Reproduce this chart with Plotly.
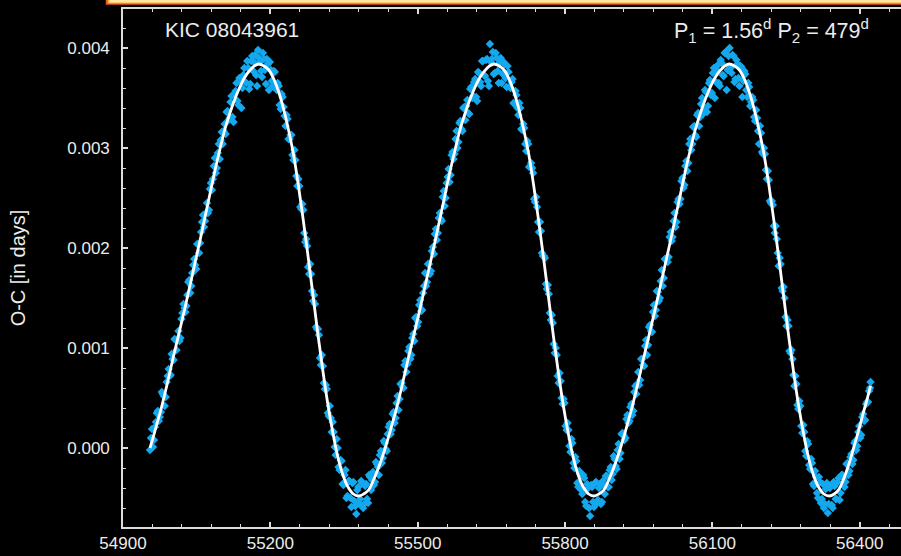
import plotly.graph_objects as go

# ---------------- data ----------------
# O-C of the primary minima: epochs (BJD - 2400000) and values (days)
prim_time = [
    54955, 54959, 54963, 54967, 54971, 54975, 54979, 54983, 54987, 54991,
    54995, 54999, 55003, 55007, 55011, 55015, 55019, 55023, 55027, 55031,
    55035, 55039, 55043, 55047, 55051, 55055, 55059, 55063, 55067, 55071,
    55075, 55079, 55083, 55087, 55091, 55095, 55099, 55103, 55107, 55111,
    55115, 55119, 55123, 55127, 55131, 55135, 55139, 55143, 55147, 55151,
    55155, 55159, 55163, 55167, 55171, 55175, 55179, 55183, 55187, 55191,
    55195, 55199, 55203, 55207, 55211, 55215, 55219, 55223, 55227, 55231,
    55235, 55239, 55243, 55247, 55251, 55255, 55259, 55263, 55267, 55271,
    55275, 55279, 55283, 55287, 55291, 55295, 55299, 55303, 55307, 55311,
    55315, 55319, 55323, 55327, 55331, 55335, 55339, 55343, 55347, 55351,
    55355, 55359, 55363, 55367, 55371, 55375, 55379, 55383, 55387, 55391,
    55395, 55399, 55403, 55407, 55411, 55415, 55419, 55423, 55427, 55431,
    55435, 55439, 55443, 55447, 55451, 55455, 55459, 55463, 55467, 55471,
    55475, 55479, 55483, 55487, 55491, 55495, 55499, 55503, 55507, 55511,
    55515, 55519, 55523, 55527, 55531, 55535, 55539, 55543, 55547, 55551,
    55555, 55559, 55563, 55567, 55571, 55575, 55579, 55583, 55587, 55591,
    55595, 55599, 55603, 55607, 55611, 55615, 55619, 55623, 55627, 55631,
    55635, 55639, 55643, 55647, 55651, 55655, 55659, 55663, 55667, 55671,
    55675, 55679, 55683, 55687, 55691, 55695, 55699, 55703, 55707, 55711,
    55715, 55719, 55723, 55727, 55731, 55735, 55739, 55743, 55747, 55751,
    55755, 55759, 55763, 55767, 55771, 55775, 55779, 55783, 55787, 55791,
    55795, 55799, 55803, 55807, 55811, 55815, 55819, 55823, 55827, 55831,
    55835, 55839, 55843, 55847, 55851, 55855, 55859, 55863, 55867, 55871,
    55875, 55879, 55883, 55887, 55891, 55895, 55899, 55903, 55907, 55911,
    55915, 55919, 55923, 55927, 55931, 55935, 55939, 55943, 55947, 55951,
    55955, 55959, 55963, 55967, 55971, 55975, 55979, 55983, 55987, 55991,
    55995, 55999, 56003, 56007, 56011, 56015, 56019, 56023, 56027, 56031,
    56035, 56039, 56043, 56047, 56051, 56055, 56059, 56063, 56067, 56071,
    56075, 56079, 56083, 56087, 56091, 56095, 56099, 56103, 56107, 56111,
    56115, 56119, 56123, 56127, 56131, 56135, 56139, 56143, 56147, 56151,
    56155, 56159, 56163, 56167, 56171, 56175, 56179, 56183, 56187, 56191,
    56195, 56199, 56203, 56207, 56211, 56215, 56219, 56223, 56227, 56231,
    56235, 56239, 56243, 56247, 56251, 56255, 56259, 56263, 56267, 56271,
    56275, 56279, 56283, 56287, 56291, 56295, 56299, 56303, 56307, 56311,
    56315, 56319, 56323, 56327, 56331, 56335, 56339, 56343, 56347, 56351,
    56355, 56359, 56363, 56367, 56371, 56375, 56379, 56383, 56387, 56391,
    56395, 56399, 56403, 56407, 56411, 56415, 56419, 56422,
]
prim_oc = [
    -0.00002, 0.00019, 0.00008, 0.00026, 0.00037, 0.00031, 0.00056, 0.00052, 0.00051, 0.00072,
    0.00072, 0.00094, 0.00088, 0.00108, 0.00109, 0.00107, 0.00129, 0.00144, 0.00136, 0.00153,
    0.00168, 0.00162, 0.00183, 0.00183, 0.00204, 0.00195, 0.00216, 0.00233, 0.00227, 0.00245,
    0.00238, 0.00265, 0.00269, 0.00290, 0.00280, 0.00304, 0.00308, 0.00304, 0.00324, 0.00336,
    0.00328, 0.00346, 0.00331, 0.00354, 0.00365, 0.00343, 0.00368, 0.00360, 0.00380, 0.00365,
    0.00380, 0.00364, 0.00392, 0.00386, 0.00373, 0.00398, 0.00386, 0.00371, 0.00389, 0.00364,
    0.00384, 0.00386, 0.00367, 0.00377, 0.00361, 0.00365, 0.00343, 0.00354, 0.00341, 0.00322,
    0.00329, 0.00309, 0.00313, 0.00288, 0.00288, 0.00262, 0.00262, 0.00239, 0.00238, 0.00206,
    0.00202, 0.00174, 0.00174, 0.00147, 0.00144, 0.00119, 0.00113, 0.00083, 0.00082, 0.00059,
    0.00059, 0.00032, 0.00030, 0.00026, 0.00001, 0.00009, -0.00019, -0.00012, -0.00036, -0.00027,
    -0.00050, -0.00033, -0.00050, -0.00035, -0.00053, -0.00066, -0.00039, -0.00051, -0.00035, -0.00056,
    -0.00036, -0.00055, -0.00029, -0.00032, -0.00037, -0.00014, -0.00019, -0.00007, -0.00015, 0.00007,
    -0.00001, 0.00014, 0.00024, 0.00018, 0.00036, 0.00030, 0.00052, 0.00049, 0.00065, 0.00060,
    0.00087, 0.00084, 0.00101, 0.00093, 0.00114, 0.00130, 0.00122, 0.00143, 0.00137, 0.00155,
    0.00175, 0.00166, 0.00184, 0.00177, 0.00201, 0.00214, 0.00208, 0.00230, 0.00229, 0.00251,
    0.00242, 0.00265, 0.00279, 0.00273, 0.00296, 0.00294, 0.00317, 0.00306, 0.00327, 0.00317,
    0.00341, 0.00342, 0.00335, 0.00359, 0.00350, 0.00366, 0.00351, 0.00376, 0.00366, 0.00387,
    0.00373, 0.00388, 0.00367, 0.00404, 0.00389, 0.00374, 0.00395, 0.00377, 0.00385, 0.00365,
    0.00386, 0.00370, 0.00382, 0.00361, 0.00366, 0.00345, 0.00357, 0.00340, 0.00345, 0.00319,
    0.00324, 0.00304, 0.00307, 0.00281, 0.00285, 0.00275, 0.00246, 0.00241, 0.00216, 0.00217,
    0.00192, 0.00190, 0.00159, 0.00154, 0.00128, 0.00125, 0.00095, 0.00093, 0.00065, 0.00067,
    0.00044, 0.00045, 0.00018, 0.00018, -0.00004, 0.00005, -0.00020, -0.00013, -0.00039, -0.00026,
    -0.00046, -0.00030, -0.00058, -0.00040, -0.00068, -0.00039, -0.00059, -0.00034, -0.00052, -0.00036,
    -0.00054, -0.00037, -0.00028, -0.00039, -0.00022, -0.00032, -0.00008, -0.00018, -0.00002, -0.00011,
    0.00014, 0.00013, 0.00010, 0.00033, 0.00027, 0.00044, 0.00037, 0.00062, 0.00064, 0.00063,
    0.00089, 0.00083, 0.00102, 0.00093, 0.00121, 0.00117, 0.00136, 0.00132, 0.00157, 0.00147,
    0.00167, 0.00162, 0.00189, 0.00190, 0.00191, 0.00216, 0.00211, 0.00235, 0.00226, 0.00249,
    0.00249, 0.00270, 0.00263, 0.00287, 0.00285, 0.00309, 0.00304, 0.00322, 0.00311, 0.00335,
    0.00331, 0.00350, 0.00338, 0.00356, 0.00342, 0.00368, 0.00355, 0.00380, 0.00366, 0.00383,
    0.00362, 0.00385, 0.00372, 0.00396, 0.00378, 0.00400, 0.00375, 0.00392, 0.00369, 0.00384,
    0.00362, 0.00381, 0.00367, 0.00374, 0.00351, 0.00361, 0.00346, 0.00348, 0.00327, 0.00330,
    0.00304, 0.00315, 0.00294, 0.00294, 0.00269, 0.00268, 0.00245, 0.00243, 0.00215, 0.00209,
    0.00182, 0.00184, 0.00157, 0.00150, 0.00122, 0.00122, 0.00095, 0.00089, 0.00062, 0.00064,
    0.00039, 0.00042, 0.00015, 0.00016, -0.00008, 0.00004, -0.00021, -0.00015, -0.00038, -0.00029,
    -0.00050, -0.00034, -0.00051, -0.00060, -0.00041, -0.00065, -0.00040, -0.00057, -0.00034, -0.00051,
    -0.00034, -0.00052, -0.00027, -0.00030, -0.00034, -0.00015, -0.00023, -0.00006, -0.00012, 0.00007,
    0.00002, 0.00022, 0.00013, 0.00034, 0.00028, 0.00046, 0.00057, 0.00066,
]

# O-C of the secondary minima
sec_time = [
    54957, 54961, 54965, 54969, 54973, 54977, 54981, 54985, 54989, 54993,
    54997, 55001, 55005, 55009, 55013, 55017, 55021, 55025, 55029, 55033,
    55037, 55041, 55045, 55049, 55053, 55057, 55061, 55065, 55069, 55073,
    55077, 55081, 55085, 55089, 55093, 55097, 55101, 55105, 55109, 55113,
    55117, 55121, 55125, 55129, 55133, 55137, 55141, 55145, 55149, 55153,
    55157, 55161, 55165, 55169, 55173, 55177, 55181, 55185, 55189, 55193,
    55197, 55201, 55205, 55209, 55213, 55217, 55221, 55225, 55229, 55233,
    55237, 55241, 55245, 55249, 55253, 55257, 55261, 55265, 55269, 55273,
    55277, 55281, 55285, 55289, 55293, 55297, 55301, 55305, 55309, 55313,
    55317, 55321, 55325, 55329, 55333, 55337, 55341, 55345, 55349, 55353,
    55357, 55361, 55365, 55369, 55373, 55377, 55381, 55385, 55389, 55393,
    55397, 55401, 55405, 55409, 55413, 55417, 55421, 55425, 55429, 55433,
    55437, 55441, 55445, 55449, 55453, 55457, 55461, 55465, 55469, 55473,
    55477, 55481, 55485, 55489, 55493, 55497, 55501, 55505, 55509, 55513,
    55517, 55521, 55525, 55529, 55533, 55537, 55541, 55545, 55549, 55553,
    55557, 55561, 55565, 55569, 55573, 55577, 55581, 55585, 55589, 55593,
    55597, 55601, 55605, 55609, 55613, 55617, 55621, 55625, 55629, 55633,
    55637, 55641, 55645, 55649, 55653, 55657, 55661, 55665, 55669, 55673,
    55677, 55681, 55685, 55689, 55693, 55697, 55701, 55705, 55709, 55713,
    55717, 55721, 55725, 55729, 55733, 55737, 55741, 55745, 55749, 55753,
    55757, 55761, 55765, 55769, 55773, 55777, 55781, 55785, 55789, 55793,
    55797, 55801, 55805, 55809, 55813, 55817, 55821, 55825, 55829, 55833,
    55837, 55841, 55845, 55849, 55853, 55857, 55861, 55865, 55869, 55873,
    55877, 55881, 55885, 55889, 55893, 55897, 55901, 55905, 55909, 55913,
    55917, 55921, 55925, 55929, 55933, 55937, 55941, 55945, 55949, 55953,
    55957, 55961, 55965, 55969, 55973, 55977, 55981, 55985, 55989, 55993,
    55997, 56001, 56005, 56009, 56013, 56017, 56021, 56025, 56029, 56033,
    56037, 56041, 56045, 56049, 56053, 56057, 56061, 56065, 56069, 56073,
    56077, 56081, 56085, 56089, 56093, 56097, 56101, 56105, 56109, 56113,
    56117, 56121, 56125, 56129, 56133, 56137, 56141, 56145, 56149, 56153,
    56157, 56161, 56165, 56169, 56173, 56177, 56181, 56185, 56189, 56193,
    56197, 56201, 56205, 56209, 56213, 56217, 56221, 56225, 56229, 56233,
    56237, 56241, 56245, 56249, 56253, 56257, 56261, 56265, 56269, 56273,
    56277, 56281, 56285, 56289, 56293, 56297, 56301, 56305, 56309, 56313,
    56317, 56321, 56325, 56329, 56333, 56337, 56341, 56345, 56349, 56353,
    56357, 56361, 56365, 56369, 56373, 56377, 56381, 56385, 56389, 56393,
    56397, 56401, 56405, 56409, 56413, 56417, 56421,
]
sec_oc = [
    0.00010, 0.00001, 0.00021, 0.00035, 0.00027, 0.00036, 0.00054, 0.00042, 0.00066, 0.00079,
    0.00073, 0.00089, 0.00109, 0.00098, 0.00117, 0.00110, 0.00135, 0.00140, 0.00142, 0.00166,
    0.00155, 0.00175, 0.00189, 0.00179, 0.00204, 0.00205, 0.00226, 0.00221, 0.00235, 0.00235,
    0.00259, 0.00258, 0.00282, 0.00275, 0.00295, 0.00289, 0.00316, 0.00317, 0.00314, 0.00337,
    0.00330, 0.00352, 0.00326, 0.00357, 0.00347, 0.00370, 0.00340, 0.00373, 0.00366, 0.00387,
    0.00359, 0.00387, 0.00377, 0.00393, 0.00362, 0.00390, 0.00377, 0.00395, 0.00378, 0.00389,
    0.00358, 0.00378, 0.00362, 0.00376, 0.00358, 0.00362, 0.00339, 0.00351, 0.00332, 0.00333,
    0.00309, 0.00313, 0.00293, 0.00298, 0.00272, 0.00269, 0.00241, 0.00244, 0.00215, 0.00209,
    0.00181, 0.00184, 0.00157, 0.00153, 0.00121, 0.00119, 0.00090, 0.00093, 0.00065, 0.00063,
    0.00035, 0.00042, 0.00016, 0.00016, -0.00007, 0.00000, -0.00022, -0.00013, -0.00037, -0.00022,
    -0.00048, -0.00033, -0.00059, -0.00034, -0.00058, -0.00042, -0.00056, -0.00033, -0.00060, -0.00038,
    -0.00051, -0.00027, -0.00042, -0.00024, -0.00034, -0.00016, -0.00027, -0.00003, -0.00010, 0.00005,
    -0.00003, 0.00021, 0.00014, 0.00034, 0.00025, 0.00045, 0.00038, 0.00064, 0.00061, 0.00083,
    0.00076, 0.00097, 0.00089, 0.00110, 0.00107, 0.00131, 0.00126, 0.00148, 0.00138, 0.00162,
    0.00162, 0.00184, 0.00174, 0.00197, 0.00194, 0.00219, 0.00215, 0.00235, 0.00227, 0.00257,
    0.00250, 0.00271, 0.00266, 0.00293, 0.00289, 0.00309, 0.00300, 0.00325, 0.00319, 0.00340,
    0.00328, 0.00348, 0.00334, 0.00361, 0.00352, 0.00369, 0.00347, 0.00375, 0.00362, 0.00387,
    0.00372, 0.00389, 0.00362, 0.00386, 0.00396, 0.00375, 0.00390, 0.00365, 0.00390, 0.00374,
    0.00384, 0.00361, 0.00376, 0.00360, 0.00369, 0.00344, 0.00353, 0.00333, 0.00340, 0.00318,
    0.00320, 0.00297, 0.00304, 0.00282, 0.00280, 0.00249, 0.00251, 0.00226, 0.00226, 0.00195,
    0.00192, 0.00164, 0.00163, 0.00135, 0.00133, 0.00104, 0.00100, 0.00072, 0.00075, 0.00050,
    0.00049, 0.00022, 0.00025, 0.00002, 0.00009, -0.00015, -0.00009, -0.00035, -0.00023, -0.00042,
    -0.00027, -0.00054, -0.00036, -0.00060, -0.00037, -0.00054, -0.00035, -0.00055, -0.00040, -0.00056,
    -0.00033, -0.00046, -0.00028, -0.00039, -0.00019, -0.00026, -0.00011, -0.00021, 0.00004, -0.00005,
    0.00015, 0.00008, 0.00029, 0.00025, 0.00041, 0.00033, 0.00056, 0.00054, 0.00076, 0.00068,
    0.00089, 0.00082, 0.00108, 0.00103, 0.00123, 0.00116, 0.00143, 0.00138, 0.00156, 0.00150,
    0.00178, 0.00170, 0.00189, 0.00186, 0.00211, 0.00207, 0.00227, 0.00221, 0.00246, 0.00244,
    0.00267, 0.00260, 0.00282, 0.00277, 0.00304, 0.00298, 0.00321, 0.00313, 0.00333, 0.00322,
    0.00344, 0.00334, 0.00358, 0.00336, 0.00365, 0.00353, 0.00375, 0.00350, 0.00378, 0.00365,
    0.00388, 0.00373, 0.00395, 0.00358, 0.00392, 0.00380, 0.00393, 0.00366, 0.00388, 0.00370,
    0.00382, 0.00351, 0.00377, 0.00358, 0.00365, 0.00342, 0.00351, 0.00331, 0.00338, 0.00317,
    0.00322, 0.00296, 0.00300, 0.00278, 0.00277, 0.00247, 0.00247, 0.00222, 0.00222, 0.00195,
    0.00190, 0.00160, 0.00161, 0.00131, 0.00128, 0.00097, 0.00098, 0.00073, 0.00072, 0.00043,
    0.00047, 0.00022, 0.00023, -0.00003, 0.00007, -0.00017, -0.00011, -0.00036, -0.00023, -0.00045,
    -0.00029, -0.00055, -0.00036, -0.00056, -0.00035, -0.00056, -0.00038, -0.00060, -0.00038, -0.00051,
    -0.00030, -0.00045, -0.00027, -0.00039, -0.00016, -0.00027, -0.00009, -0.00016, 0.00005, -0.00002,
    0.00016, 0.00010, 0.00031, 0.00027, 0.00044, 0.00046, 0.00060,
]

# fitted light-time-effect curve (days)
fit_time = [
    54955, 54961, 54969, 54977, 54989, 55002, 55017, 55027, 55037, 55047,
    55057, 55067, 55077, 55087, 55097, 55107, 55117, 55127, 55137, 55147,
    55157, 55167, 55177, 55187, 55197, 55207, 55217, 55227, 55237, 55247,
    55257, 55267, 55277, 55287, 55297, 55307, 55317, 55327, 55337, 55347,
    55357, 55369, 55380, 55390, 55400, 55410, 55420, 55430, 55440, 55448,
    55456, 55468, 55481, 55496, 55506, 55516, 55526, 55536, 55546, 55556,
    55566, 55576, 55586, 55596, 55606, 55616, 55626, 55636, 55646, 55656,
    55666, 55676, 55686, 55696, 55706, 55716, 55726, 55736, 55746, 55756,
    55766, 55776, 55786, 55796, 55806, 55816, 55826, 55836, 55848, 55859,
    55869, 55879, 55889, 55899, 55909, 55919, 55927, 55935, 55947, 55960,
    55975, 55985, 55995, 56005, 56015, 56025, 56035, 56045, 56055, 56065,
    56075, 56085, 56095, 56105, 56115, 56125, 56135, 56145, 56155, 56165,
    56175, 56185, 56195, 56205, 56215, 56225, 56235, 56245, 56255, 56265,
    56275, 56285, 56295, 56305, 56315, 56327, 56338, 56348, 56358, 56368,
    56378, 56388, 56398, 56406, 56414, 56422,
]
fit_oc = [
    0.00000, 0.00010, 0.00024, 0.00038, 0.00062, 0.00090, 0.00121, 0.00142, 0.00164, 0.00186,
    0.00208, 0.00231, 0.00254, 0.00277, 0.00298, 0.00318, 0.00334, 0.00348, 0.00360, 0.00370,
    0.00377, 0.00382, 0.00384, 0.00382, 0.00378, 0.00369, 0.00356, 0.00339, 0.00318, 0.00294,
    0.00263, 0.00228, 0.00191, 0.00152, 0.00113, 0.00077, 0.00044, 0.00016, -0.00008, -0.00026,
    -0.00038, -0.00046, -0.00048, -0.00046, -0.00042, -0.00032, -0.00020, -0.00006, 0.00010, 0.00024,
    0.00038, 0.00062, 0.00090, 0.00121, 0.00142, 0.00164, 0.00186, 0.00208, 0.00231, 0.00254,
    0.00277, 0.00298, 0.00318, 0.00334, 0.00348, 0.00360, 0.00370, 0.00377, 0.00382, 0.00384,
    0.00382, 0.00378, 0.00369, 0.00356, 0.00339, 0.00318, 0.00294, 0.00263, 0.00228, 0.00191,
    0.00152, 0.00113, 0.00077, 0.00044, 0.00016, -0.00008, -0.00026, -0.00038, -0.00046, -0.00048,
    -0.00046, -0.00042, -0.00032, -0.00020, -0.00006, 0.00010, 0.00024, 0.00038, 0.00062, 0.00090,
    0.00121, 0.00142, 0.00164, 0.00186, 0.00208, 0.00231, 0.00254, 0.00277, 0.00298, 0.00318,
    0.00334, 0.00348, 0.00360, 0.00370, 0.00377, 0.00382, 0.00384, 0.00382, 0.00378, 0.00369,
    0.00356, 0.00339, 0.00318, 0.00294, 0.00263, 0.00228, 0.00191, 0.00152, 0.00113, 0.00077,
    0.00044, 0.00016, -0.00008, -0.00026, -0.00038, -0.00046, -0.00048, -0.00046, -0.00041, -0.00030,
    -0.00016, 0.00001, 0.00018, 0.00033, 0.00047, 0.00062,
]

x_ticks = [54900, 55200, 55500, 55800, 56100, 56400]
x_tick_text = ["54900", "55200", "55500", "55800", "56100", "56400"]
y_ticks = [0.000, 0.001, 0.002, 0.003, 0.004]
y_tick_text = ["0.000", "0.001", "0.002", "0.003", "0.004"]
star_label = "KIC 08043961"
period_label = "P<sub>1</sub> = 1.56<sup>d</sup> P<sub>2</sub> = 479<sup>d</sup>"
y_title = "O-C [in days]"

# ---------------- figure ----------------
FONT = "Liberation Sans, Helvetica, Arial, sans-serif"
AXIS = "#dcdcdc"
TXT = "#ececec"
DOT = "#14A8EE"

fig = go.Figure()
for tx, ty in ((prim_time, prim_oc), (sec_time, sec_oc)):
    fig.add_trace(go.Scatter(
        x=tx, y=ty, mode="markers",
        marker=dict(symbol="diamond", size=6.5, color=DOT, line=dict(width=0)),
        showlegend=False, hoverinfo="skip",
    ))
fig.add_trace(go.Scatter(
    x=fit_time, y=fit_oc, mode="lines",
    line=dict(color="white", width=2.8, shape="spline", smoothing=1.0),
    showlegend=False, hoverinfo="skip",
))

fig.update_layout(
    width=901, height=556,
    paper_bgcolor="black", plot_bgcolor="black",
    margin=dict(l=123, r=0, t=9, b=29, pad=0, autoexpand=False),
    font=dict(family=FONT, size=17, color=TXT),
    showlegend=False,
)
fig.update_xaxes(
    range=[54900, 56484], tickmode="array", tickvals=x_ticks, ticktext=x_tick_text,
    ticks="inside", ticklen=5, tickwidth=1.5, tickcolor=AXIS,
    minor=dict(dtick=60, tick0=54900, ticks="inside", ticklen=3, tickwidth=1.2, tickcolor=AXIS),
    showline=True, linecolor=AXIS, linewidth=1.6, mirror="ticks",
    showgrid=False, zeroline=False,
    tickfont=dict(family=FONT, size=17, color=TXT),
)
fig.update_yaxes(
    range=[-0.00079, 0.00439], tickmode="array", tickvals=y_ticks, ticktext=y_tick_text,
    ticks="inside", ticklen=5, tickwidth=1.5, tickcolor=AXIS,
    minor=dict(dtick=0.0002, tick0=0, ticks="inside", ticklen=3, tickwidth=1.2, tickcolor=AXIS),
    showline=True, linecolor=AXIS, linewidth=1.6, mirror=False,
    showgrid=False, zeroline=False,
    tickfont=dict(family=FONT, size=17, color=TXT),
    ticklabelstandoff=8,
)

# decorative banner at the top edge
fig.add_shape(type="rect", xref="paper", yref="paper",
              x0=-0.0222, x1=1.05, y0=1.0080, y1=1.05,
              fillcolor="#E8561C", line=dict(width=0), layer="above")
fig.add_shape(type="rect", xref="paper", yref="paper",
              x0=-0.0197, x1=1.05, y0=1.0105, y1=1.05,
              fillcolor="#FFB23A", line=dict(width=0), layer="above")
fig.add_shape(type="rect", xref="paper", yref="paper",
              x0=-0.0175, x1=1.05, y0=1.0125, y1=1.05,
              fillcolor="#FFE7A6", line=dict(width=0), layer="above")

fig.add_annotation(text=star_label, xref="paper", yref="paper",
                   x=0.051, y=0.961, xanchor="left", yanchor="middle",
                   showarrow=False, font=dict(family=FONT, size=21, color=TXT))
fig.add_annotation(text=period_label, xref="paper", yref="paper",
                   x=0.9614, y=0.958, xanchor="right", yanchor="middle",
                   showarrow=False, font=dict(family=FONT, size=21.5, color=TXT))
fig.add_annotation(text=y_title, xref="paper", yref="paper",
                   x=-0.1345, y=0.5, xanchor="center", yanchor="middle",
                   textangle=-90, showarrow=False,
                   font=dict(family=FONT, size=20, color=TXT))

fig.write_html("out.html")
